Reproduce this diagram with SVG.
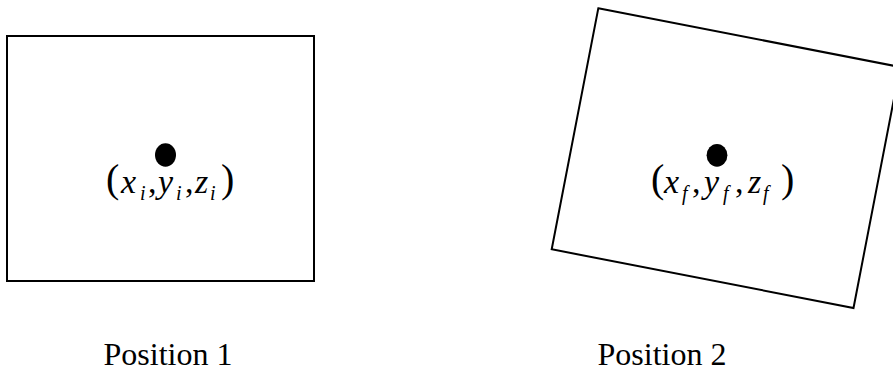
<svg xmlns="http://www.w3.org/2000/svg" width="893" height="379" viewBox="0 0 893 379">
<style>
.box{fill:none;stroke:#000;stroke-width:2}
.dot{fill:#000}
.m,.m tspan{font-family:"Liberation Serif","Times New Roman",serif}
.m{font-size:34px;font-style:italic;fill:#000}
.sub{font-size:20px}
.p{font-style:normal;font-size:40px}
.c{font-style:normal}
.lbl{font-family:"Liberation Serif","Times New Roman",serif;font-size:32px;fill:#000;text-anchor:middle}
</style>
<rect width="893" height="379" fill="#fff"/>
<g id="position1">
<rect class="box" x="7" y="36" width="307" height="245"/>
<ellipse class="dot" cx="165.5" cy="155" rx="10.5" ry="11.7"/>
<text class="m"><tspan class="p" x="106" y="192">(</tspan><tspan x="121" y="193">x</tspan><tspan class="sub" x="140" y="200">i</tspan><tspan class="c" x="148" y="193">,</tspan><tspan x="158" y="193">y</tspan><tspan class="sub" x="176" y="200">i</tspan><tspan class="c" x="185" y="193">,</tspan><tspan x="195" y="193">z</tspan><tspan class="sub" x="210" y="200">i</tspan><tspan class="p" x="221" y="192">)</tspan></text>
<text class="lbl" x="168" y="365">Position 1</text>
</g>
<g id="position2">
<polygon class="box" points="598.3,8.3 900.1,67 853.5,308 551.7,249.3"/>
<ellipse class="dot" cx="717" cy="155.3" rx="10.4" ry="11.4"/>
<text class="m"><tspan class="p" x="651" y="192">(</tspan><tspan x="664" y="193">x</tspan><tspan class="sub" x="682" y="200">f</tspan><tspan class="c" x="692" y="193">,</tspan><tspan x="704" y="193">y</tspan><tspan class="sub" x="723" y="200">f</tspan><tspan class="c" x="735" y="193">,</tspan><tspan x="748" y="193">z</tspan><tspan class="sub" x="763" y="200">f</tspan><tspan class="p" x="781" y="192">)</tspan></text>
<text class="lbl" x="662" y="365">Position 2</text>
</g>
<g id="connectors"/>
</svg>
